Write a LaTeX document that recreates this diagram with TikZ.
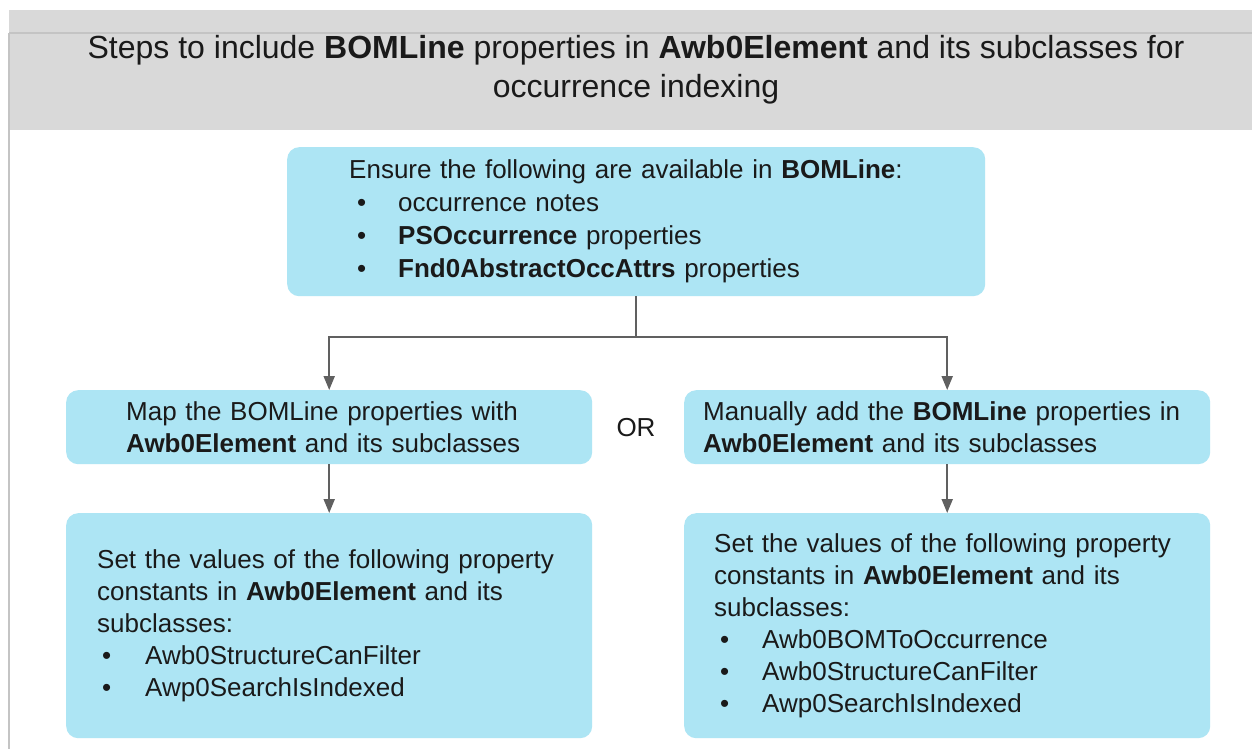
\documentclass[tikz,border=0pt]{standalone}
\usepackage{fontspec}
\setmainfont{Liberation Sans}
\usetikzlibrary{arrows.meta}
\definecolor{boxfill}{HTML}{ADE5F4}
\definecolor{band}{HTML}{D9D9D9}
\definecolor{bandline}{HTML}{C4C4C4}
\definecolor{conncol}{HTML}{606060}
\definecolor{ink}{HTML}{1A1A1A}
\newcommand{\bul}[2]{\hspace*{#1}\makebox[#2][l]{\textbullet}}
\begin{document}
\begin{tikzpicture}[x=1pt,y=-1pt,
  box/.style={fill=boxfill, rounded corners=12pt, inner ysep=0pt, align=left,
    text=ink, font=\fontsize{26}{32}\selectfont, anchor=north west},
  conn/.style={draw=conncol, line width=2pt},
  arr/.style={conn, -{Triangle[length=14pt,width=11pt]}},
  bodytext/.style={text=ink, font=\fontsize{26}{32}\selectfont, inner sep=0pt},
]
\useasboundingbox (0,0) rectangle (1252,749);
\fill[white] (0,0) rectangle (1252,749);
\fill[band] (9,10) rectangle (1252,130);
\draw[bandline, line width=1.5pt] (9,33) -- (1252,33);
\draw[bandline, line width=1.5pt] (9,33) -- (9,749);

\node[text=ink, font=\fontsize{32}{39}\selectfont, align=center, inner sep=0pt] (title) at (636,69.5)
  {Steps to include \textbf{BOMLine} properties in \textbf{Awb0Element} and its subclasses for\\occurrence indexing};

\node[box, font=\fontsize{26}{33}\selectfont, inner xsep=62pt, text width=574pt, minimum height=149pt] (top) at (287,147)
  {\mbox{Ensure the following are available in \textbf{BOMLine}:}\\
   \bul{8pt}{41pt}occurrence notes\\
   \bul{8pt}{41pt}\textbf{PSOccurrence} properties\\
   \bul{8pt}{41pt}\textbf{Fnd0AbstractOccAttrs} properties};

\node[box, inner xsep=60pt, text width=406pt, minimum height=74pt] (ml) at (66,390)
  {\mbox{Map the BOMLine properties with}\\
   \mbox{\textbf{Awb0Element} and its subclasses}};

\node[box, inner xsep=19pt, text width=488pt, minimum height=74pt] (mr) at (684,390)
  {\mbox{Manually add the \textbf{BOMLine} properties in}\\
   \mbox{\textbf{Awb0Element} and its subclasses}};

\node[bodytext] (or) at (636,428) {OR};

\node[box, inner xsep=31pt, text width=464pt, minimum height=225pt] (bl) at (66,513)
  {\mbox{Set the values of the following property}\\
   \mbox{constants in \textbf{Awb0Element} and its}\\
   subclasses:\\
   \bul{5pt}{43pt}Awb0StructureCanFilter\\
   \bul{5pt}{43pt}Awp0SearchIsIndexed};

\node[box, inner xsep=30pt, text width=466pt, minimum height=225pt] (br) at (684,513)
  {\mbox{Set the values of the following property}\\
   \mbox{constants in \textbf{Awb0Element} and its}\\
   subclasses:\\
   \bul{6pt}{42pt}Awb0BOMToOccurrence\\
   \bul{6pt}{42pt}Awb0StructureCanFilter\\
   \bul{6pt}{42pt}Awp0SearchIsIndexed};

\coordinate (yline) at (0,337);
\coordinate (split) at (top.south |- yline);
\draw[conn] (top.south) -- (split);
\draw[arr] (split) -| (ml.north);
\draw[arr] (split) -| (mr.north);
\draw[arr] (ml.south) -- (bl.north);
\draw[arr] (mr.south) -- (br.north);
\end{tikzpicture}
\end{document}
